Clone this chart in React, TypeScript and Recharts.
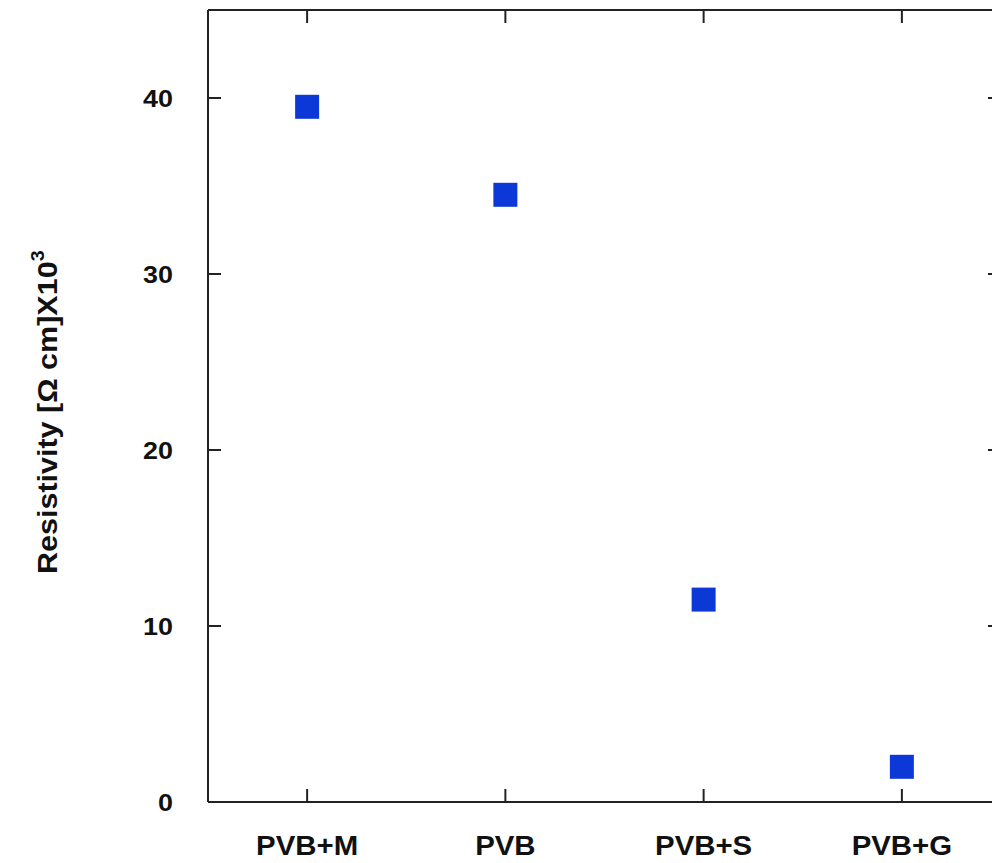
import React from "react";
import { ScatterChart, Scatter, XAxis, YAxis, ZAxis, Label } from "recharts";

const samples = ["PVB+M", "PVB", "PVB+S", "PVB+G"];
const resistivity = [39.5, 34.5, 11.5, 2.0];
const yTicks = [0, 10, 20, 30, 40];

const data = samples.map((name, i) => ({ name, value: resistivity[i] }));

const font = "'Liberation Sans', Arial, sans-serif";
const axisColor = "#222";
const line = { stroke: axisColor, strokeWidth: 2 };

// labels in the source are a bit wider than Arial, so stretch them along the text
const XTick = ({ x, y, payload }: any) => (
  <text
    transform={`translate(${x},${y + 53}) scale(1.05,1)`}
    textAnchor="middle"
    fontFamily={font}
    fontWeight="bold"
    fontSize={28}
    fill="#111"
  >
    {payload.value}
  </text>
);

const YTick = ({ x, y, payload }: any) => (
  <text
    transform={`translate(${x},${y + 9}) scale(1.12,1)`}
    textAnchor="end"
    fontFamily={font}
    fontWeight="bold"
    fontSize={24}
    fill="#111"
  >
    {payload.value}
  </text>
);

const NoTick = () => <g />;

const YTitle = () => (
  <text
    transform="translate(57,574) rotate(-90) scale(1.09,1)"
    textAnchor="start"
    fontFamily={font}
    fontWeight="bold"
    fontSize={28}
    fill="#111"
  >
    Resistivity [Ω cm]X10
    <tspan fontSize={18} dy={-13}>3</tspan>
  </text>
);

export default function App() {
  return (
    <div style={{ position: "absolute", left: 0, top: 0, width: 992, height: 863, overflow: "hidden" }}>
      <ScatterChart
        width={1010}
        height={863}
        data={data}
        margin={{ top: 10, right: 9, bottom: 0, left: 0 }}
      >
        <XAxis
          xAxisId="b"
          dataKey="name"
          type="category"
          allowDuplicatedCategory={false}
          height={61}
          tickSize={0}
          tickMargin={0}
          axisLine={line}
          tickLine={false}
          tick={<XTick />}
        />
        <XAxis
          xAxisId="bIn"
          dataKey="name"
          type="category"
          allowDuplicatedCategory={false}
          mirror
          height={1}
          tickSize={13}
          axisLine={false}
          tickLine={line}
          tick={<NoTick />}
        />
        <XAxis
          xAxisId="t"
          orientation="top"
          dataKey="name"
          type="category"
          allowDuplicatedCategory={false}
          mirror
          height={1}
          tickSize={13}
          axisLine={line}
          tickLine={line}
          tick={<NoTick />}
        />
        <YAxis
          yAxisId="l"
          dataKey="value"
          type="number"
          domain={[0, 45]}
          ticks={yTicks}
          width={208}
          tickSize={0}
          tickMargin={35}
          axisLine={line}
          tickLine={false}
          tick={<YTick />}
        >
          <Label content={<YTitle />} />
        </YAxis>
        <YAxis
          yAxisId="lIn"
          dataKey="value"
          type="number"
          domain={[0, 45]}
          ticks={yTicks}
          mirror
          width={1}
          tickSize={13}
          axisLine={false}
          tickLine={line}
          tick={<NoTick />}
        />
        <YAxis
          yAxisId="r"
          orientation="right"
          dataKey="value"
          type="number"
          domain={[0, 45]}
          ticks={yTicks}
          mirror
          width={1}
          tickSize={13}
          axisLine={line}
          tickLine={line}
          tick={<NoTick />}
        />
        <ZAxis range={[576, 576]} />
        <Scatter
          xAxisId="b"
          yAxisId="l"
          dataKey="value"
          shape="square"
          fill="#0d38d8"
          isAnimationActive={false}
        />
      </ScatterChart>
    </div>
  );
}
